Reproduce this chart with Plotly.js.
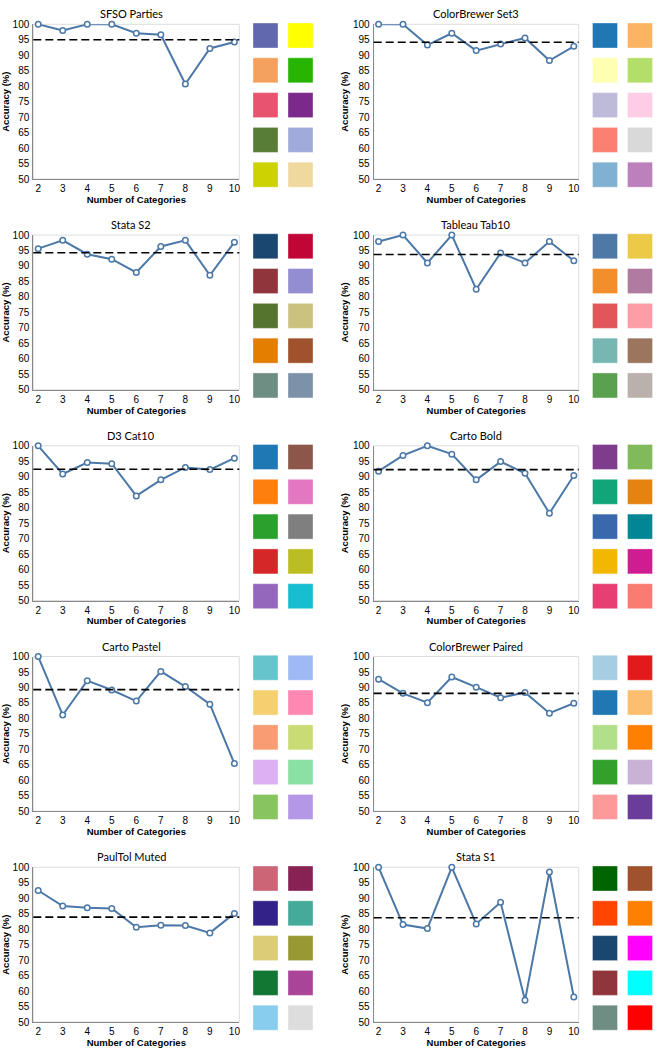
<!DOCTYPE html>
<html><head><meta charset="utf-8">
<script src="https://cdn.plot.ly/plotly-3.0.1.min.js"></script>
<style>html,body{margin:0;padding:0;background:#fff}#chart{width:664px;height:1053px}</style>
</head><body><div id="chart"></div>
<script>
// ---------- data ----------
const categories = [2, 3, 4, 5, 6, 7, 8, 9, 10];
const yTicks = [50, 55, 60, 65, 70, 75, 80, 85, 90, 95, 100];
const paletteNames = ["SFSO Parties", "ColorBrewer Set3", "Stata S2", "Tableau Tab10", "D3 Cat10",
  "Carto Bold", "Carto Pastel", "ColorBrewer Paired", "PaulTol Muted", "Stata S1"];

const accSFSO    = [100, 98.0, 100, 100, 97.1, 96.6, 80.7, 92.2, 94.3];
const accSet3    = [100, 100, 93.3, 97.1, 91.5, 93.6, 95.6, 88.3, 92.9];
const accStataS2 = [95.6, 98.3, 93.8, 92.2, 87.9, 96.3, 98.3, 87.0, 97.7];
const accTab10   = [97.9, 100, 91.0, 100, 82.5, 94.2, 91.0, 97.9, 91.7];
const accCat10   = [100, 90.9, 94.6, 94.2, 83.8, 89.0, 93.0, 92.3, 96.0];
const accBold    = [91.8, 96.9, 100, 97.3, 89.0, 94.9, 91.1, 78.2, 90.4];
const accPastel  = [100, 81.1, 92.2, 89.2, 85.6, 95.2, 90.3, 84.6, 65.4];
const accPaired  = [92.7, 88.1, 85.1, 93.4, 90.1, 86.7, 88.4, 81.7, 84.9];
const accMuted   = [92.5, 87.5, 86.9, 86.7, 80.6, 81.3, 81.2, 78.8, 85.1];
const accStataS1 = [100, 81.5, 80.2, 100, 81.7, 88.7, 57.0, 98.5, 58.1];

const meanLines = [95.0, 94.2, 94.3, 93.7, 92.4, 92.3, 89.3, 88.1, 83.9, 83.7];

const colSFSO    = ["#6268ad", "#ffff00", "#f4a05e", "#27b502", "#e8546f", "#7b2a8b", "#587d36", "#a1abdb", "#cdd202", "#f0d99f"];
const colSet3    = ["#1f78b4", "#fdb462", "#ffffb3", "#b3de69", "#bebada", "#fccde5", "#fb8072", "#d9d9d9", "#80b1d3", "#bc80bd"];
const colStataS2 = ["#1a476f", "#c10534", "#90353b", "#938dd2", "#55752f", "#cac27e", "#e37e00", "#a0522d", "#6e8e84", "#7b92a8"];
const colTab10   = ["#4e79a7", "#edc948", "#f28e2b", "#b07aa1", "#e15759", "#ff9da7", "#76b7b2", "#9c755f", "#59a14f", "#bab0ac"];
const colCat10   = ["#1f77b4", "#8c564b", "#ff7f0e", "#e377c2", "#2ca02c", "#7f7f7f", "#d62728", "#bcbd22", "#9467bd", "#17becf"];
const colBold    = ["#7f3c8d", "#80ba5a", "#11a579", "#e68310", "#3969ac", "#008695", "#f2b701", "#cf1c90", "#e73f74", "#f97b72"];
const colPastel  = ["#66c5cc", "#9eb9f3", "#f6cf71", "#fe88b1", "#f89c74", "#c9db74", "#dcb0f2", "#8be0a4", "#87c55f", "#b497e7"];
const colPaired  = ["#a6cee3", "#e31a1c", "#1f78b4", "#fdbf6f", "#b2df8a", "#ff7f00", "#33a02c", "#cab2d6", "#fb9a99", "#6a3d9a"];
const colMuted   = ["#cc6677", "#882255", "#332288", "#44aa99", "#ddcc77", "#999933", "#117733", "#aa4499", "#88ccee", "#dddddd"];
const colStataS1 = ["#006400", "#a0522d", "#ff4500", "#ff8000", "#1a476f", "#ff00ff", "#90353b", "#00ffff", "#6e8e84", "#ff0000"];

const accuracies = [accSFSO, accSet3, accStataS2, accTab10, accCat10, accBold, accPastel, accPaired, accMuted, accStataS1];
const palettes = [colSFSO, colSet3, colStataS2, colTab10, colCat10, colBold, colPastel, colPaired, colMuted, colStataS1];

// ---------- layout geometry (pixels) ----------
const W = 664, H = 1053;
const plotX = [[33.3, 239.3], [373.7, 578.7]];
const swX = [[248, 318], [587.5, 657.5]];
const titleX = [131.3, 475.5];
const rowTop0 = 24.3, rowStep = 210.75, plotH = 154.7;
const px = v => v / W;
const py = v => 1 - v / H;

const BLUE = "#4c78a8";
const tickFont = {family: "Liberation Sans, Arial, sans-serif", size: 10, color: "#000"};
const axTitleFont = {family: "Liberation Sans, Arial, sans-serif", size: 9.5, color: "#000", weight: 700};

const traces = [];
const layout = {
  width: W, height: H,
  margin: {l: 0, r: 0, t: 0, b: 0},
  paper_bgcolor: "#fff", plot_bgcolor: "#fff",
  showlegend: false,
  shapes: [], annotations: []
};

palettes.forEach((cols, i) => {
  const row = Math.floor(i / 2), col = i % 2;
  const a = i + 1, b = i + 11;
  const top = rowTop0 + rowStep * row, bot = top + plotH;

  traces.push({
    type: "scatter", mode: "lines+markers",
    x: categories, y: accuracies[i],
    xaxis: "x" + a, yaxis: "y" + a,
    cliponaxis: false,
    line: {color: BLUE, width: 2},
    marker: {symbol: "circle", size: 5.5, color: "#fff", line: {color: BLUE, width: 1.5}},
    hoverinfo: "skip"
  });
  traces.push({
    type: "scatter", mode: "markers",
    x: cols.map((c, k) => k % 2), y: cols.map((c, k) => Math.floor(k / 2)),
    xaxis: "x" + b, yaxis: "y" + b,
    cliponaxis: false,
    marker: {symbol: "square", size: 25, color: cols, line: {color: "rgba(255,255,255,0.35)", width: 1}},
    hoverinfo: "skip"
  });

  layout["xaxis" + a] = {
    domain: [px(plotX[col][0]), px(plotX[col][1])], anchor: "y" + a,
    range: [1.8, 10.2], tickvals: categories, ticktext: categories.map(String),
    showline: true, linecolor: "#888", linewidth: 1, ticks: "",
    showgrid: false, zeroline: false, tickfont: tickFont, ticklabelstandoff: 0,
    title: {text: "Number of Categories", font: axTitleFont, standoff: 2},
    fixedrange: true
  };
  layout["yaxis" + a] = {
    domain: [py(bot), py(top)], anchor: "x" + a,
    range: [50, 100], tickvals: yTicks, ticktext: yTicks.map(String),
    showline: true, linecolor: "#888", linewidth: 1, ticks: "",
    showgrid: false, zeroline: false, tickfont: tickFont, ticklabelstandoff: 1,
    title: {text: "Accuracy (%)", font: axTitleFont, standoff: 2},
    fixedrange: true
  };
  layout["xaxis" + b] = {
    domain: [px(swX[col][0]), px(swX[col][1])], anchor: "y" + b,
    range: [-0.5, 1.5], visible: false, fixedrange: true
  };
  layout["yaxis" + b] = {
    domain: [py(top + 167.8), py(top - 6.2)], anchor: "x" + b,
    range: [4.5, -0.5], visible: false, fixedrange: true
  };

  layout.shapes.push({
    type: "rect", xref: "x" + a + " domain", yref: "y" + a + " domain",
    x0: 0, x1: 1, y0: 0, y1: 1, line: {color: "#ddd", width: 1}, layer: "below"
  });
  layout.shapes.push({
    type: "line", xref: "x" + a + " domain", yref: "y" + a,
    x0: 0, x1: 1, y0: meanLines[i], y1: meanLines[i],
    line: {color: "#000", width: 1.6, dash: "8px,4px"}
  });
  layout.annotations.push({
    xref: "paper", yref: "paper", x: px(titleX[col]), y: py(top - 10.5),
    xanchor: "center", yanchor: "middle", showarrow: false,
    text: paletteNames[i],
    font: {family: "Lato, sans-serif", size: 11, color: "#000"}
  });
});

Plotly.newPlot("chart", traces, layout, {staticPlot: true, displayModeBar: false});
</script>
</body></html>
